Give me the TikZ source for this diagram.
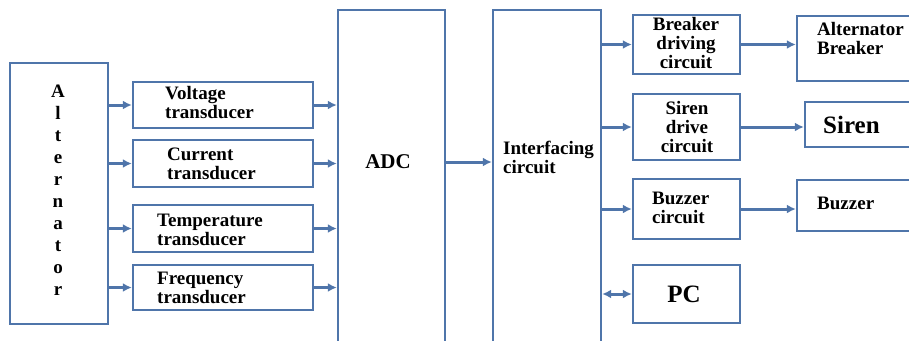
\documentclass[tikz,border=0pt]{standalone}
\usepackage{fontspec}
\setmainfont{Liberation Serif}
\usetikzlibrary{arrows.meta}
\definecolor{lc}{RGB}{79,117,170}
\tikzset{
  blk/.style={draw=lc, line width=2.4pt, inner sep=0pt, fill=none},
  arr/.style={draw=lc, line width=3pt, -{Latex[length=9pt,width=9pt]}},
  darr/.style={draw=lc, line width=3pt, {Latex[length=9pt,width=9pt]}-{Latex[length=9pt,width=9pt]}},
  txt/.style={font=\bfseries\fontsize{19}{19}\selectfont, inner sep=0pt},
  big/.style={font=\bfseries\fontsize{25}{25}\selectfont, inner sep=0pt}
}
\begin{document}
\begin{tikzpicture}[x=1pt,y=-1pt]
\useasboundingbox (0,0) rectangle (909,340);
% boxes
\node[blk, minimum width=98pt, minimum height=261pt] (alt) at (59,193.5) {};
\node[blk, minimum width=180pt, minimum height=46pt] (vt) at (223,105) {};
\node[blk, minimum width=180pt, minimum height=47pt] (ct) at (223,163.5) {};
\node[blk, minimum width=180pt, minimum height=47pt] (tt) at (223,228.5) {};
\node[blk, minimum width=180pt, minimum height=45pt] (ft) at (223,287.5) {};
\node[blk, minimum width=107pt, minimum height=340pt] (adc) at (391.5,180) {};
\node[blk, minimum width=108pt, minimum height=340pt] (ifc) at (547,180) {};
\node[blk, minimum width=107pt, minimum height=59pt] (bd) at (686.5,44.5) {};
\node[blk, minimum width=107pt, minimum height=66pt] (sd) at (686.5,127) {};
\node[blk, minimum width=107pt, minimum height=60pt] (bc) at (686.5,209) {};
\node[blk, minimum width=107pt, minimum height=58pt] (pc) at (686.5,294) {};
\node[blk, minimum width=123pt, minimum height=65pt] (ab) at (858.5,48.5) {};
\node[blk, minimum width=115pt, minimum height=45pt] (sr) at (862.5,124.5) {};
\node[blk, minimum width=123pt, minimum height=51pt] (bz) at (858.5,205.5) {};
% labels
\node[txt, align=center, font=\bfseries\fontsize{19}{22}\selectfont] (altl) at (58,190) {A\\l\\t\\e\\r\\n\\a\\t\\o\\r};
\node[txt, align=left, anchor=west] (vtl) at (165,102.5) {Voltage\\transducer};
\node[txt, align=left, anchor=west] (ctl) at (167,164) {Current\\transducer};
\node[txt, align=left, anchor=west] (ttl) at (157,230) {Temperature\\transducer};
\node[txt, align=left, anchor=west] (ftl) at (157,288) {Frequency\\transducer};
\node[txt, font=\bfseries\fontsize{21}{21}\selectfont] (adcl) at (388,162) {ADC};
\node[txt, align=left, anchor=west] (ifcl) at (503,157) {Interfacing\\circuit};
\node[txt, align=center] (bdl) at (686,43) {Breaker\\driving\\circuit};
\node[txt, align=center] (sdl) at (687,127) {Siren\\drive\\circuit};
\node[txt, align=left, anchor=west] (bcl) at (652,208) {Buzzer\\circuit};
\node[big] (pcl) at (684,294) {PC};
\node[txt, align=left, anchor=west] (abl) at (817,39) {Alternator\\Breaker};
\node[big, anchor=west] (srl) at (823,125) {Siren};
\node[txt, anchor=west] (bzl) at (817,203) {Buzzer};
% connectors
\draw[arr] (alt.east |- vt.west) -- (vt.west);
\draw[arr] (alt.east |- ct.west) -- (ct.west);
\draw[arr] (alt.east |- tt.west) -- (tt.west);
\draw[arr] (alt.east |- ft.west) -- (ft.west);
\draw[arr] (vt.east) -- (adc.west |- vt.east);
\draw[arr] (ct.east) -- (adc.west |- ct.east);
\draw[arr] (tt.east) -- (adc.west |- tt.east);
\draw[arr] (ft.east) -- (adc.west |- ft.east);
\draw[arr] (adc.east |- adcl) -- (ifc.west |- adcl);
\draw[arr] (ifc.east |- bd.west) -- (bd.west);
\draw[arr] (ifc.east |- sd.west) -- (sd.west);
\draw[arr] (ifc.east |- bc.west) -- (bc.west);
\draw[darr] (ifc.east |- pc.west) -- (pc.west);
\draw[arr] (bd.east) -- (ab.west |- bd.east);
\draw[arr] (sd.east) -- (sr.west |- sd.east);
\draw[arr] (bc.east) -- (bz.west |- bc.east);
\end{tikzpicture}
\end{document}
